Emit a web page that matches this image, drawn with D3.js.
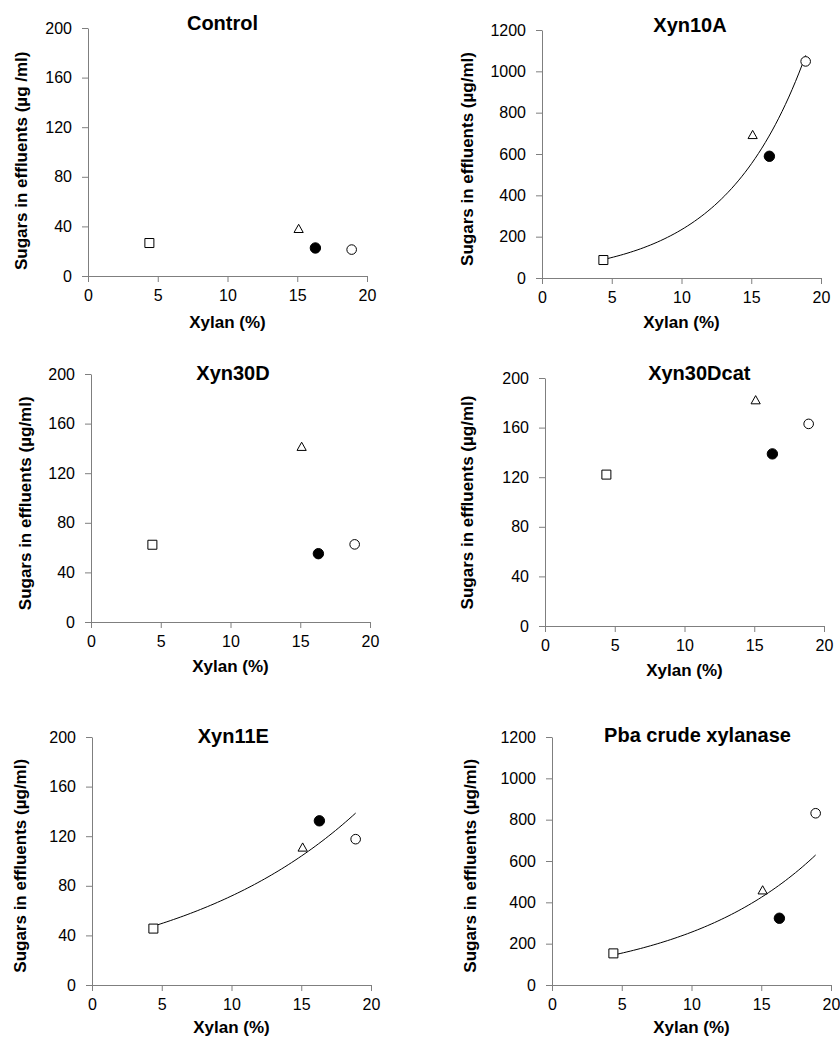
<!DOCTYPE html>
<meta charset="utf-8">
<script src="https://cdn.jsdelivr.net/npm/d3@7"></script>
<style>
  body { margin: 0; background: #fff; }
  text { font-family: "Liberation Sans", Arial, sans-serif; }
</style>
<body>
<div id="chart"></div>
<script>

// xylan content of the four substrates (same in every panel)
var xylan = [4.4, 15.1, 16.3, 18.9];
var markers = ["square", "triangle", "dot", "circle"];
var xTicks = [0, 5, 10, 15, 20];

// sugars released in the effluents, one array per enzyme
var control   = [26.6, 38.3, 22.6, 21.3];
var xyn10A    = [87, 694, 589, 1048];
var xyn30D    = [62.3, 141.6, 55.1, 62.6];
var xyn30Dcat = [122.1, 182.4, 138.8, 163];
var xyn11E    = [45.5, 111.2, 132.4, 117.6];
var pbaCrude  = [153, 460, 323, 831];

var titles = ["Control", "Xyn10A", "Xyn30D", "Xyn30Dcat", "Xyn11E", "Pba crude xylanase"];
var yLabels = ["Sugars in effluents (\u00b5g /ml)", "Sugars in effluents (\u00b5g/ml)",
  "Sugars in effluents (\u00b5g/ml)", "Sugars in effluents (\u00b5g/ml)",
  "Sugars in effluents (\u00b5g/ml)", "Sugars in effluents (\u00b5g/ml)"];
var yMax = [200, 1200, 200, 200, 200, 1200];
var yStep = [40, 200, 40, 40, 40, 200];
var trend = [false, true, false, false, true, true];

var series = [control, xyn10A, xyn30D, xyn30Dcat, xyn11E, pbaCrude];

// where each panel sits on the page
var layout = [
  {left: 88,  top: 28,  tx: 222.5, ty: 29.5,  lx: 20.7,  ly: 160.8, xl: 52},
  {left: 542, top: 30,  tx: 690,   ty: 32,    lx: 466.7, ly: 159,   xl: 50},
  {left: 91,  top: 374, tx: 233,   ty: 379.5, lx: 25,    ly: 503.3, xl: 50},
  {left: 545, top: 378, tx: 699.3, ty: 379.5, lx: 466.7, ly: 502.5, xl: 50},
  {left: 92,  top: 737, tx: 233.3, ty: 742.7, lx: 20,    ly: 865.8, xl: 48},
  {left: 552, top: 737, tx: 697.5, ty: 741.7, lx: 470,   ly: 865.8, xl: 48}
];
var width = 279, height = 248;
var axisColor = "#7f7f7f";

var svg = d3.select("#chart")
  .append("svg")
  .attr("width", 840)
  .attr("height", 1039);

// least squares fit of y = a*exp(b*x), like a spreadsheet trendline
function expFit(xs, ys) {
  var ly = ys.map(function(v) { return Math.log(v); });
  var mx = d3.mean(xs), my = d3.mean(ly);
  var sxy = 0, sxx = 0;
  xs.forEach(function(x, i) {
    sxy += (x - mx) * (ly[i] - my);
    sxx += (x - mx) * (x - mx);
  });
  var b = sxy / sxx;
  return {a: Math.exp(my - b * mx), b: b};
}

function markerPath(type) {
  var p = d3.path();
  if (type == "square") {
    p.rect(-4.5, -4.5, 9, 9);
  } else if (type == "triangle") {
    p.moveTo(0, -4.2);
    p.lineTo(4.6, 4);
    p.lineTo(-4.6, 4);
    p.closePath();
  } else if (type == "dot") {
    p.arc(0, 0, 5.2, 0, 2 * Math.PI);
  } else {
    p.arc(0, 0, 4.8, 0, 2 * Math.PI);
  }
  return p.toString();
}

series.forEach(function(values, k) {
  var L = layout[k];
  var g = svg.append("g")
    .attr("transform", "translate(" + L.left + "," + L.top + ")");

  var x = d3.scaleLinear().domain([0, 20]).range([0, width]);
  var y = d3.scaleLinear().domain([0, yMax[k]]).range([height, 0]);

  // Add X axis
  var xAxis = g.append("g")
    .attr("transform", "translate(0," + height + ")")
    .call(d3.axisBottom(x).tickValues(xTicks).tickFormat(d3.format("d"))
      .tickSize(6).tickSizeOuter(0).tickPadding(8));

  // Add Y axis
  var yAxis = g.append("g")
    .call(d3.axisLeft(y).tickValues(d3.range(0, yMax[k] + 1, yStep[k]))
      .tickFormat(d3.format("d")).tickSize(6).tickSizeOuter(0).tickPadding(10));

  [xAxis, yAxis].forEach(function(a) {
    a.selectAll("path, line").attr("stroke", axisColor);
    a.selectAll("text")
      .attr("fill", "#000")
      .style("font-size", "16px")
      .style("font-family", "'Liberation Sans', Arial, sans-serif");
  });

  // trendline
  if (trend[k]) {
    var f = expFit(xylan, values);
    var x0 = d3.min(xylan), x1 = d3.max(xylan);
    var pts = d3.range(0, 61).map(function(i) {
      var xv = x0 + (x1 - x0) * i / 60;
      return [xv, f.a * Math.exp(f.b * xv)];
    });
    g.append("path")
      .datum(pts)
      .attr("fill", "none")
      .attr("stroke", "#000")
      .attr("stroke-width", 1)
      .attr("d", d3.line()
        .x(function(d) { return x(d[0]); })
        .y(function(d) { return y(d[1]); }));
  }

  // Add markers
  g.append("g")
    .selectAll("path")
    .data(values)
    .enter()
    .append("path")
    .attr("transform", function(d, i) {
      return "translate(" + [x(xylan[i]), y(d)] + ")";
    })
    .attr("d", function(d, i) { return markerPath(markers[i]); })
    .attr("fill", function(d, i) { return markers[i] == "dot" ? "#000" : "#fff"; })
    .attr("stroke", "#000")
    .attr("stroke-width", 1);

  // title
  svg.append("text")
    .attr("x", L.tx)
    .attr("y", L.ty)
    .attr("text-anchor", "middle")
    .style("font-size", "20px")
    .style("font-weight", "bold")
    .text(titles[k]);

  // x label
  svg.append("text")
    .attr("x", L.left + width / 2)
    .attr("y", L.top + height + L.xl)
    .attr("text-anchor", "middle")
    .style("font-size", "17px")
    .style("font-weight", "bold")
    .text("Xylan (%)");

  // y label
  svg.append("text")
    .attr("transform", "translate(" + L.lx + "," + L.ly + ") rotate(-90)")
    .attr("dy", "0.36em")
    .attr("text-anchor", "middle")
    .style("font-size", "17px")
    .style("font-weight", "bold")
    .text(yLabels[k]);
});

</script>
</body>
